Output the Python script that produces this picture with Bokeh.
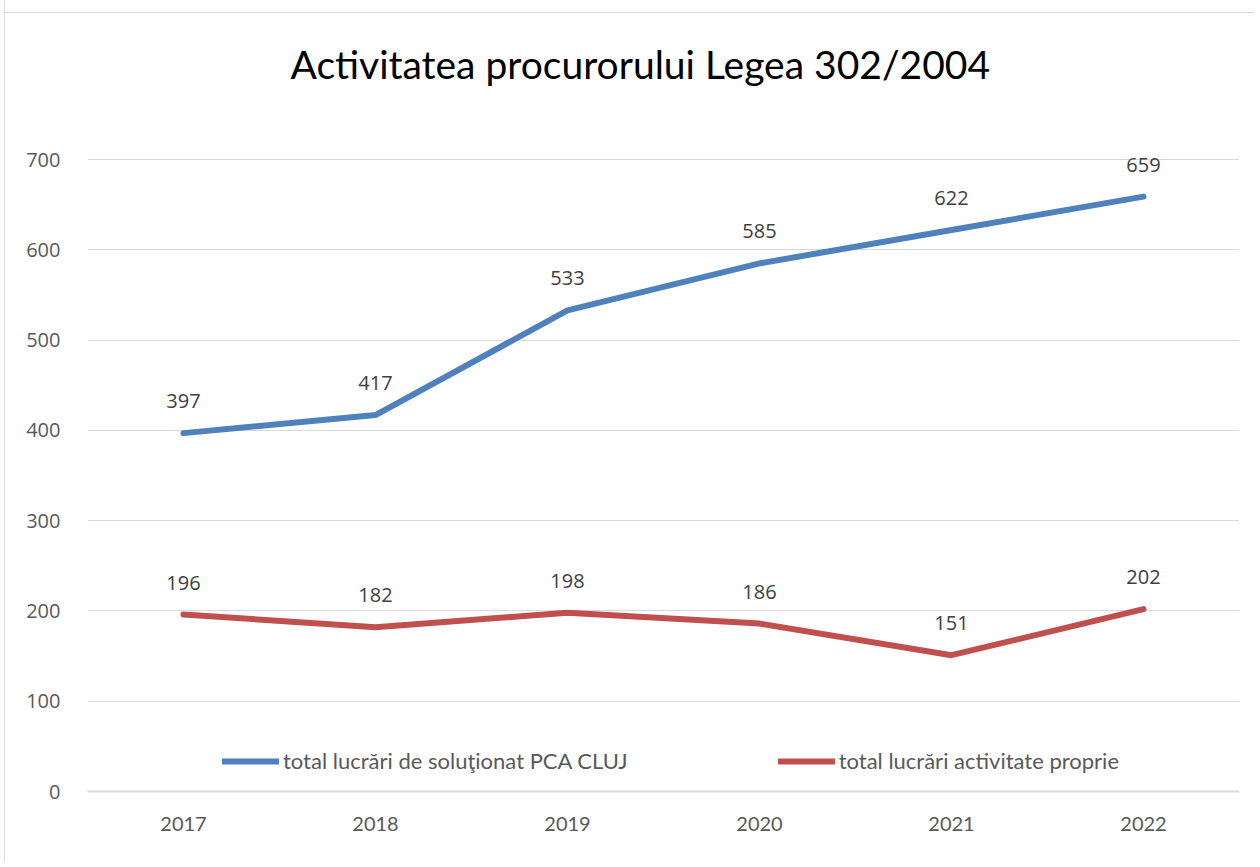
from bokeh.plotting import figure
from bokeh.models import ColumnDataSource, FixedTicker, Range1d, FactorRange, Legend, LegendItem, Title
from bokeh.core.properties import value
from bokeh.embed import file_html
from bokeh.resources import INLINE

years = ["2017", "2018", "2019", "2020", "2021", "2022"]
total_pca = [397, 417, 533, 585, 622, 659]
activitate_proprie = [196, 182, 198, 186, 151, 202]
series_names = ["total lucrări de soluţionat PCA CLUJ", "total lucrări activitate proprie"]
y_ticks = [0, 100, 200, 300, 400, 500, 600, 700]
title_text = "Activitatea procurorului Legea 302/2004"

BLUE = "#4F81BD"
RED = "#C0504D"

p = figure(width=1250, height=862, output_backend="svg", toolbar_location=None,
           x_range=FactorRange(*years, range_padding=0), y_range=Range1d(0, 740),
           min_border_left=82, min_border_right=16, min_border_top=123, min_border_bottom=71)
p.outline_line_color = None
p.background_fill_color = "white"
p.border_fill_color = "white"
p.border_fill_alpha = 0
p.styles = {"border-left": "1px solid #D9D9D9",
            "background": "linear-gradient(#D9D9D9, #D9D9D9) 0 12px / 100% 1px no-repeat, white",
            "margin-top": "0px", "margin-left": "4px"}

p.title = Title(text=title_text, align="left", offset=203, standoff=74,
                text_font="Lato", text_font_size="39px", text_font_style="normal",
                text_color="#000000")

src1 = ColumnDataSource(dict(x=years, y=total_pca, t=[str(v) for v in total_pca]))
src2 = ColumnDataSource(dict(x=years, y=activitate_proprie, t=[str(v) for v in activitate_proprie]))

r1 = p.line("x", "y", source=src1, line_color=BLUE, line_width=6, line_cap="round", line_join="round")
r2 = p.line("x", "y", source=src2, line_color=RED, line_width=6, line_cap="round", line_join="round")

for s in (src1, src2):
    p.text("x", "y", text="t", source=s, y_offset=-32, text_align="center", text_baseline="middle",
           text_font=value("Open Sans"), text_font_size="20px", text_color="#404040")

legend = Legend(items=[LegendItem(label=series_names[0], renderers=[r1]),
                       LegendItem(label=series_names[1], renderers=[r2])],
                orientation="horizontal", location=(135, 17), padding=0, margin=0,
                spacing=150, glyph_width=57, glyph_height=22, label_standoff=4,
                label_text_font="Lato", label_text_font_size="22px", label_text_color="#595959",
                background_fill_alpha=0, border_line_color=None)
p.add_layout(legend)

p.yaxis.ticker = FixedTicker(ticks=y_ticks)
p.yaxis.axis_line_color = None
p.yaxis.major_tick_line_color = None
p.yaxis.minor_tick_line_color = None
p.yaxis.major_label_standoff = 21
p.yaxis.major_label_text_font = "Open Sans"
p.yaxis.major_label_text_font_size = "20px"
p.yaxis.major_label_text_color = "#595959"

p.xaxis.axis_line_color = "#D9D9D9"
p.xaxis.axis_line_width = 2
p.xaxis.major_tick_line_color = None
p.xaxis.minor_tick_line_color = None
p.xaxis.major_label_standoff = 19
p.xaxis.major_label_text_font = "Lato"
p.xaxis.major_label_text_font_size = "20px"
p.xaxis.major_label_text_color = "#595959"

p.xgrid.grid_line_color = None
p.ygrid.grid_line_color = "#D9D9D9"
p.ygrid.grid_line_width = 1
p.ygrid.ticker = FixedTicker(ticks=y_ticks)

open("out.html", "w").write(file_html(p, INLINE))
